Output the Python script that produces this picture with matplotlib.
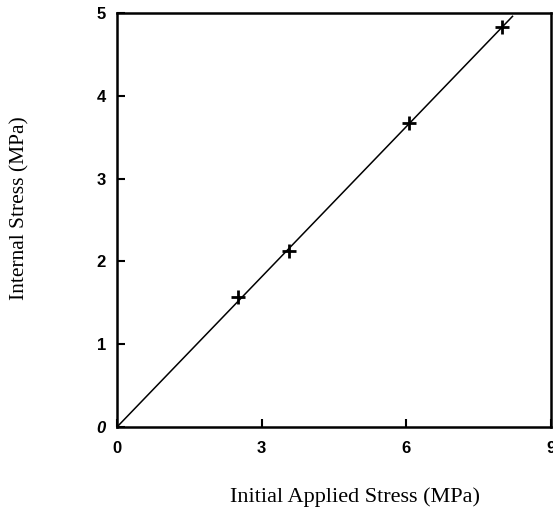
import matplotlib.pyplot as plt
import numpy as np

# measured points (initial applied stress vs internal stress, MPa)
applied = [2.5, 3.57, 6.05, 7.99]
internal = [1.57, 2.13, 3.67, 4.83]

# fitted line through origin
fit_x = [0, 8.2]
fit_slope = 0.605

xticks = [0, 3, 6, 9]
yticks = [0, 1, 2, 3, 4, 5]

fig = plt.figure(figsize=(5.53, 5.11), dpi=100)
ax = fig.add_axes([0.2116, 0.1644, 0.785, 0.810])

fx = np.array(fit_x)
ax.plot(fx, fit_slope * fx, color="black", lw=1.1)
ax.plot(applied, internal, ls="none", marker="+", ms=10, mew=2, color="black")

ax.set_xlim(0, 9)
ax.set_ylim(0, 5)
ax.set_xticks(xticks)
ax.set_yticks(yticks)
ax.tick_params(direction="in", length=6, width=1.5, top=False, right=False,
               labelsize=12)
for lab in ax.get_xticklabels() + ax.get_yticklabels():
    lab.set_family("Liberation Sans")
    lab.set_fontweight("bold")
ax.get_yticklabels()[0].set_style("italic")
ax.tick_params(axis="x", pad=10)
ax.tick_params(axis="y", pad=8)
for s in ax.spines.values():
    s.set_linewidth(1.8)

# axis labels placed by hand, as in the scanned figure
fig.text(355 / 553, 1 - 497 / 511, "Initial Applied Stress (MPa)",
         family="Liberation Serif", fontsize=16, ha="center", va="center")
fig.text(20 / 553, 1 - 208 / 511, "Internal Stress (MPa)", family="Liberation Serif",
         fontsize=15.5, rotation=90, ha="center", va="center")

fig.savefig("out.png", dpi=100)
